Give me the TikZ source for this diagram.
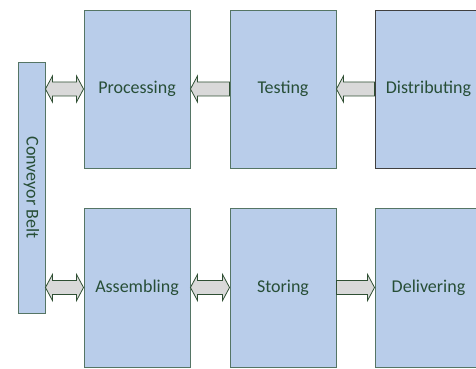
\documentclass[tikz,border=0pt]{standalone}
\usepackage{fontspec}
\setmainfont{Carlito}
\usetikzlibrary{calc}
\definecolor{boxfill}{HTML}{B9CDEA}
\definecolor{boxline}{HTML}{557565}
\definecolor{txt}{HTML}{274E37}
\definecolor{arrfill}{HTML}{D9D9D9}
\definecolor{arrline}{HTML}{2F4F33}
\tikzset{
  procbox/.style={draw=boxline, fill=boxfill, line width=0.9pt, minimum width=106pt, minimum height=158pt, inner sep=0pt, text=txt, font=\fontsize{18}{20}\selectfont},
  edgebox/.style={procbox, minimum width=112pt, text width=101pt, align=center},
  beltbox/.style={procbox, minimum width=27pt, minimum height=251pt},
  barrow/.style={draw=arrline, fill=arrfill, line width=0.8pt, line join=miter}
}
\newcommand\dblarrow[2]{\draw[barrow] (#1) -- ++(7,13) -- ++(0,-6) -- ($(#2)+(-7,7)$) -- ++(0,6) -- (#2) -- ++(-7,-13) -- ++(0,6) -- ($(#1)+(7,-7)$) -- ++(0,-6) -- cycle;}
\newcommand\leftarr[2]{\draw[barrow] (#1) -- ++(7,13) -- ++(0,-6) -- ($(#2)+(0,7)$) -- ++(0,-14) -- ($(#1)+(7,-7)$) -- ++(0,-6) -- cycle;}
\newcommand\rightarr[2]{\draw[barrow] (#2) -- ++(-7,13) -- ++(0,-6) -- ($(#1)+(0,7)$) -- ++(0,-14) -- ($(#2)+(-7,-7)$) -- ++(0,-6) -- cycle;}
\begin{document}
\begin{tikzpicture}[x=1pt,y=1pt]
\useasboundingbox (0,0) rectangle (476,369);
\node[beltbox] (belt) at (31.5,181.5) {};
\node[rotate=-90, text=txt, font=\fontsize{18}{20}\selectfont] (beltlabel) at (belt.center) {Conveyor Belt};
\node[procbox] (proc) at (137,280) {Processing};
\node[procbox] (test) at (283,280) {Testing};
\node[edgebox, draw=black!75] (dist) at (431,280) {\hspace*{-5pt}Distributing};
\node[procbox, minimum height=159pt] (asm) at (137,81.5) {Assembling};
\node[procbox, minimum height=159pt] (stor) at (283,81.5) {Storing};
\node[edgebox, minimum height=159pt] (deli) at (431,81.5) {\hspace*{-5pt}Delivering};
\coordinate (b1) at (belt.east |- proc.west);
\coordinate (b2) at (belt.east |- asm.west);
\dblarrow{b1}{proc.west}
\leftarr{proc.east}{test.west}
\leftarr{test.east}{dist.west}
\dblarrow{b2}{asm.west}
\dblarrow{asm.east}{stor.west}
\rightarr{stor.east}{deli.west}
\end{tikzpicture}
\end{document}
